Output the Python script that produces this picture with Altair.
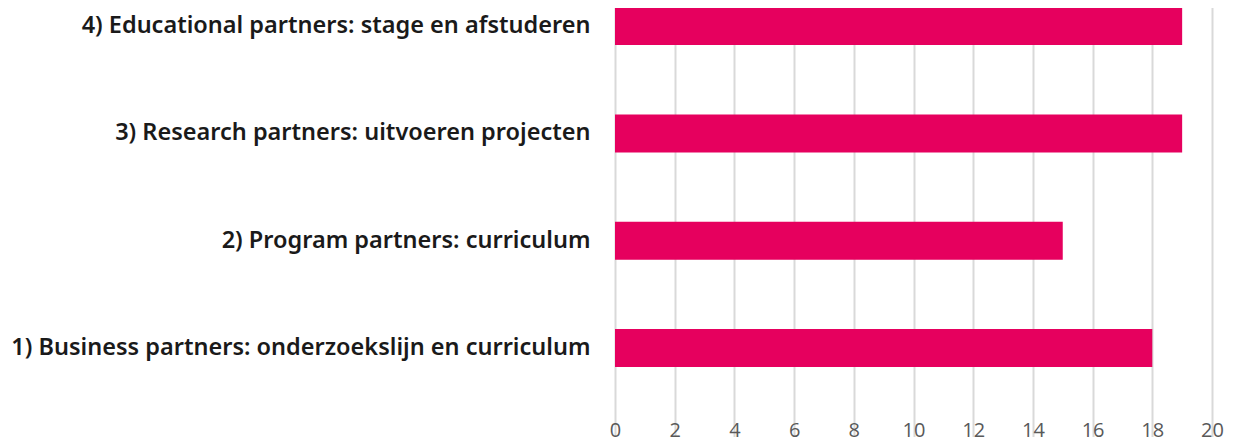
import altair as alt
import pandas as pd

categories = [
    "4) Educational partners: stage en afstuderen",
    "3) Research partners: uitvoeren projecten",
    "2) Program partners: curriculum\u00a0",
    "1) Business partners: onderzoekslijn en curriculum",
]
values = [19, 19, 15, 18]
x_ticks = list(range(0, 21, 2))

df = pd.DataFrame({"cat": categories, "val": values})

chart = (
    alt.Chart(df)
    .mark_bar(color="#e6005e")
    .encode(
        x=alt.X(
            "val:Q",
            scale=alt.Scale(domain=[0, 20], nice=False),
            axis=alt.Axis(
                values=x_ticks,
                title=None,
                domain=False,
                ticks=False,
                grid=True,
                gridColor="#d9d9d9",
                gridWidth=2,
                labelFont="Open Sans",
                labelFontSize=20,
                labelColor="#595959",
                labelPadding=19,
                labelFlush=False,
            ),
        ),
        y=alt.Y(
            "cat:N",
            sort=categories,
            scale=alt.Scale(range=[-35.6, 393.7], paddingInner=0.646, paddingOuter=0.323),
            axis=alt.Axis(
                title=None,
                domain=False,
                ticks=False,
                grid=False,
                labelFont="Noto Sans",
                labelFontWeight=600,
                labelFontSize=23.5,
                labelColor="#1a1a1a",
                labelPadding=25,
                labelLimit=700,
            ),
        ),
    )
    .properties(
        width=597,
        height=393,
        autosize=alt.AutoSizeParams(type="none"),
        padding={"left": 607, "top": 0, "right": 14, "bottom": 42},
    )
    .configure_view(stroke=None)
)

chart.save("out.html", embed_options={"renderer": "svg", "actions": False})
